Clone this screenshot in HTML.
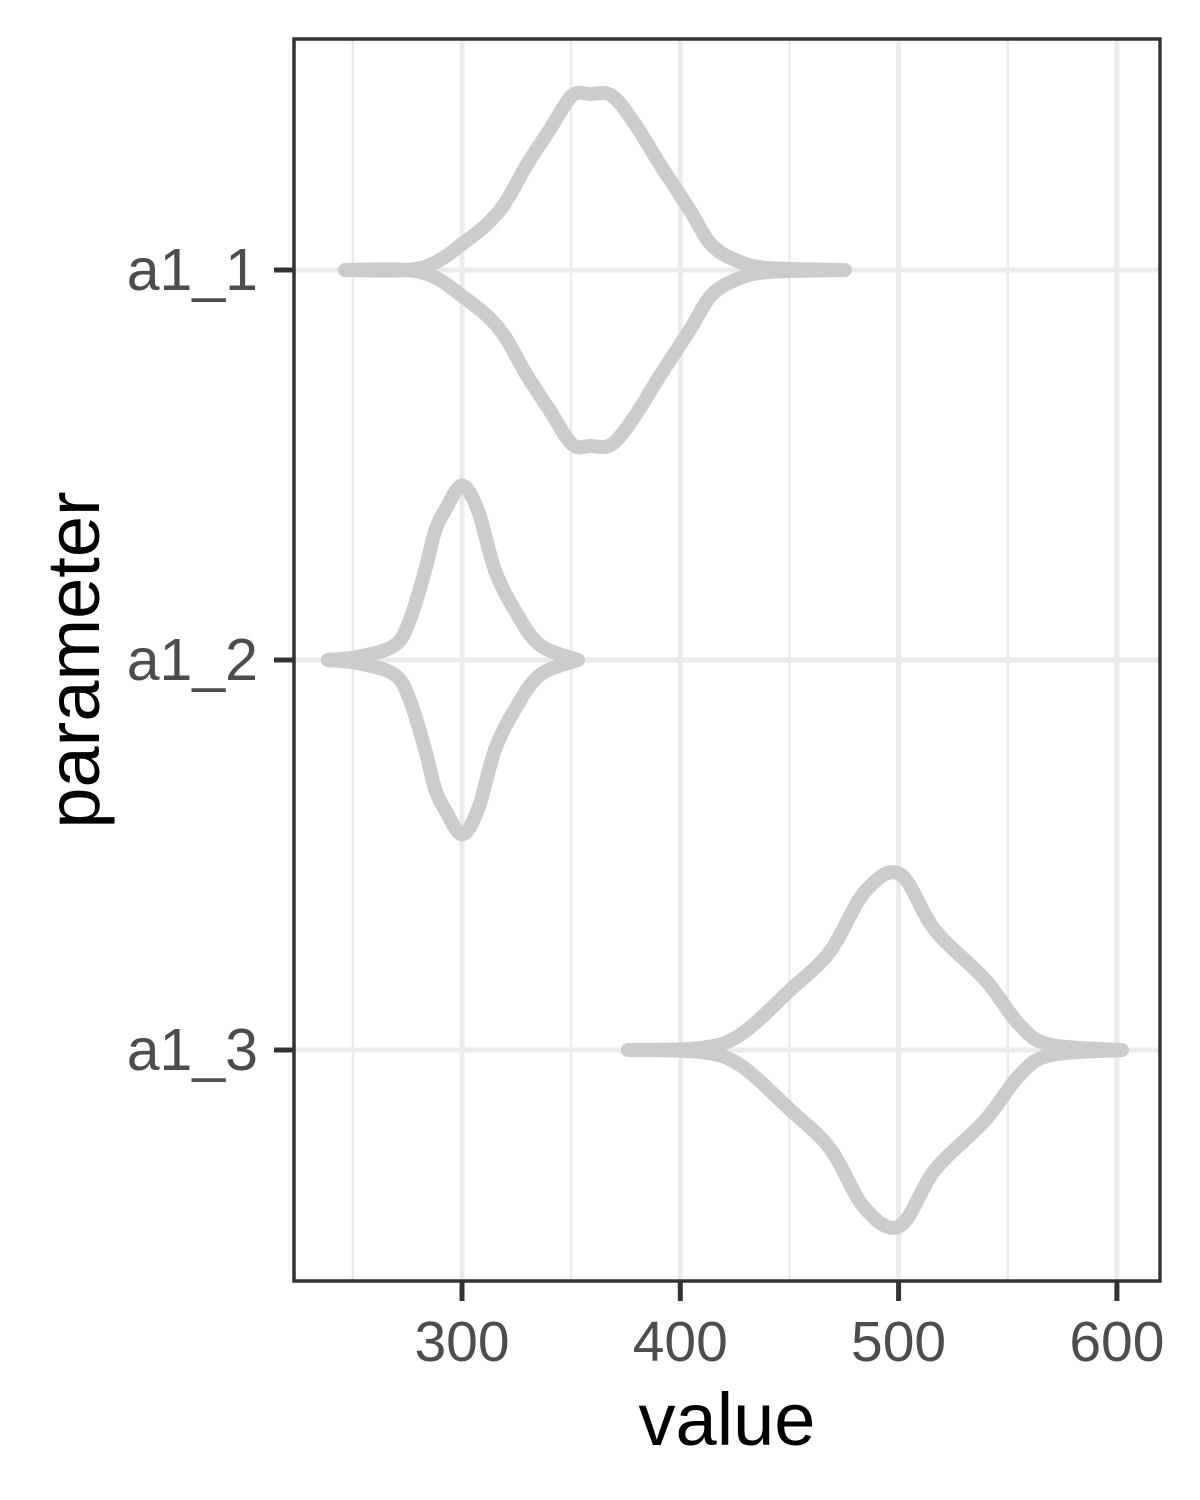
<!DOCTYPE html>
<html><head><meta charset="utf-8"><style>
body{margin:0;background:#fff}
svg{display:block;font-family:"Liberation Sans",Arial,sans-serif}
</style></head><body>
<svg id="chart" width="1200" height="1500" viewBox="0 0 1200 1500">
<rect width="1200" height="1500" fill="#fff"/>
<g id="grid"></g>
<g id="violins"></g>
<rect x="294" y="39" width="866" height="1242" fill="none" stroke="#333" stroke-width="3.5"/>
<g id="axes"></g>
<text x="727" y="1445" font-size="74" text-anchor="middle" fill="#000">value</text>
<text transform="translate(99,660) rotate(-90)" font-size="74" text-anchor="middle" fill="#000">parameter</text>
</svg>
<script>
const categories = ["a1_1","a1_2","a1_3"];
const xTicks = [300,400,500,600];
const xMinor = [250,350,450,550];
const v1 = [246.4,280.8,301.4,317.4,329.8,340.3,350.4,358.6,368.7,379.2,390.7,404.4,414.5,427.3,441.0,475.4];
const d1 = [0,0.011,0.16,0.34,0.6,0.8,0.99,1,0.99,0.83,0.6,0.34,0.14,0.046,0.011,0];
const v2 = [238.6,253.3,269.3,276.2,283.1,287.6,292.2,300,307.3,315.1,324.3,335.7,353.1];
const d2 = [0,0.02,0.085,0.23,0.51,0.73,0.85,0.99,0.85,0.51,0.28,0.085,0];
const v3 = [376,409,427.3,450.3,468.6,484.6,500.6,516.7,539.6,555.6,569.4,602.3];
const d3 = [0,0.011,0.085,0.34,0.56,0.9,1,0.68,0.4,0.14,0.03,0];

const NS="http://www.w3.org/2000/svg";
const xs = v => 462 + (v-300)*2.183;
const ys = i => 270 + i*390;
const maxHalf = 176;
function mk(tag, attrs, parent){const e=document.createElementNS(NS,tag);for(const k in attrs)e.setAttribute(k,attrs[k]);parent.appendChild(e);return e;}
function smooth(pts){let s='M'+pts[0][0]+','+pts[0][1];
 for(let i=0;i<pts.length-1;i++){const p0=pts[Math.max(i-1,0)],p1=pts[i],p2=pts[i+1],p3=pts[Math.min(i+2,pts.length-1)];
 const c1=[p1[0]+(p2[0]-p0[0])/6,p1[1]+(p2[1]-p0[1])/6],c2=[p2[0]-(p3[0]-p1[0])/6,p2[1]-(p3[1]-p1[1])/6];
 s+=' C'+c1.join(',')+' '+c2.join(',')+' '+p2.join(',');}return s;}
const grid=document.getElementById('grid'), vg=document.getElementById('violins'), ax=document.getElementById('axes');
xMinor.forEach(v=>{const l=mk('line',{x1:xs(v),x2:xs(v),y1:39,y2:1281,stroke:'#ebebeb','stroke-width':2.5},grid);

});
xTicks.forEach(v=>{const l=mk('line',{x1:xs(v),x2:xs(v),y1:39,y2:1281,stroke:'#ebebeb','stroke-width':5},grid);


const t=mk('line',{x1:xs(v),x2:xs(v),y1:1281,y2:1301,stroke:'#333','stroke-width':5},ax);


const tx=mk('text',{x:xs(v),y:1361,'font-size':57,'text-anchor':'middle',fill:'#4d4d4d'},ax);tx.textContent=v;

});
categories.forEach((c,i)=>{const l=mk('line',{x1:294,x2:1160,y1:ys(i),y2:ys(i),stroke:'#ebebeb','stroke-width':5},grid);


const t=mk('line',{x1:274,x2:294,y1:ys(i),y2:ys(i),stroke:'#333','stroke-width':5},ax);


const tx=mk('text',{x:258,y:ys(i)+20,'font-size':59,'text-anchor':'end',fill:'#4d4d4d'},ax);tx.textContent=c;

});
[[v1,d1],[v2,d2],[v3,d3]].forEach(([v,d],i)=>{
 const up=v.map((x,k)=>[xs(x),ys(i)-d[k]*maxHalf]);
 const lo=v.map((x,k)=>[xs(x),ys(i)+d[k]*maxHalf]);
 const p=mk('path',{d:smooth(up)+' '+smooth(lo),fill:'none',stroke:'#cccccc','stroke-width':14,'stroke-linejoin':'round','stroke-linecap':'round'},vg);
 
 
});
</script>
</body></html>
